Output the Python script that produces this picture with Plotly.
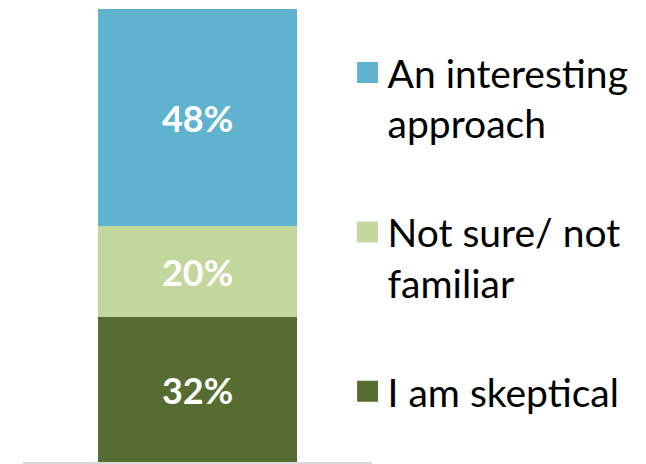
import plotly.graph_objects as go

categories = ["Opinion"]
series_names = ["I am skeptical", "Not sure/ not<br>familiar", "An interesting<br>approach"]
series_values = [32, 20, 48]
series_colors = ["#576C31", "#C3D69B", "#60B3CF"]
legend_order = [2, 1, 0]  # top to bottom

fig = go.Figure()
for name, val, col in zip(series_names, series_values, series_colors):
    fig.add_trace(go.Bar(
        x=categories, y=[val], name=name, marker_color=col, marker_line_width=0,
        text=[f"{val}%"], textposition="inside", insidetextanchor="middle",
        textangle=0, textfont=dict(family="Lato", size=36, color="white", weight="bold"),
        showlegend=False, hoverinfo="skip", width=0.573,
    ))

for rank, idx in enumerate(legend_order):
    fig.add_trace(go.Scatter(
        x=[None], y=[None], mode="markers", name=series_names[idx],
        marker=dict(symbol="square", size=16, color=series_colors[idx],
                    line=dict(width=5, color=series_colors[idx])),
        legendgroup=f"g{rank}", legendrank=rank + 1, showlegend=True,
    ))

fig.update_layout(
    barmode="stack",
    width=646, height=464,
    margin=dict(l=23, r=274, t=9, b=2, autoexpand=False),
    plot_bgcolor="white", paper_bgcolor="white",
    xaxis=dict(showticklabels=False, showgrid=False, zeroline=False,
               showline=True, linecolor="#D9D9D9", linewidth=2, ticks=""),
    yaxis=dict(range=[0, 100], visible=False, showgrid=False),
    legend=dict(x=0.93, xanchor="left", y=0.93, yanchor="top",
                font=dict(family="Lato", size=39, color="black"),
                tracegroupgap=55, valign="top", bgcolor="rgba(0,0,0,0)",
                traceorder="grouped", itemsizing="trace"),
    showlegend=True,
)

fig.write_html("out.html", config={"displayModeBar": False},
               post_script="document.body.style.margin='0';")
